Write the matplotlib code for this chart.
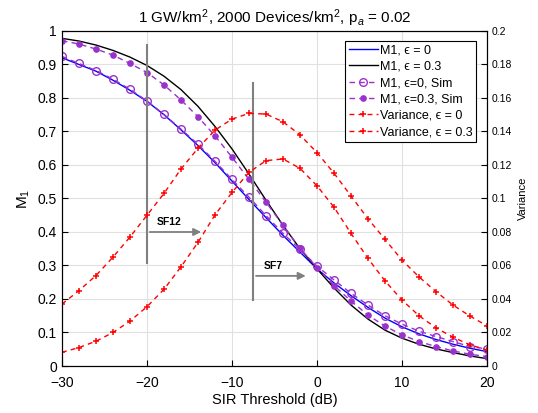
import numpy as np
import matplotlib.pyplot as plt

plt.rcParams['font.family'] = ['Liberation Sans', 'DejaVu Sans']
plt.rcParams['mathtext.fontset'] = 'custom'
plt.rcParams['mathtext.rm'] = 'Liberation Sans'
plt.rcParams['mathtext.it'] = 'Liberation Sans:italic'

sir = np.arange(-30, 21, 2)

m1_eps0 = [0.92, 0.90, 0.88, 0.853, 0.823, 0.79, 0.75, 0.705, 0.658, 0.607, 0.552, 0.497, 0.443,
           0.39, 0.34, 0.29, 0.248, 0.21, 0.175, 0.143, 0.117, 0.096, 0.079, 0.065, 0.053, 0.043]
m1_eps03 = [0.978, 0.970, 0.958, 0.942, 0.922, 0.897, 0.865, 0.825, 0.775, 0.715, 0.648, 0.573, 0.495,
            0.42, 0.35, 0.29, 0.233, 0.182, 0.14, 0.107, 0.083, 0.065, 0.051, 0.04, 0.03, 0.022]
sim_eps0 = [0.924, 0.903, 0.882, 0.856, 0.826, 0.791, 0.751, 0.707, 0.662, 0.611, 0.557, 0.504, 0.449,
            0.396, 0.348, 0.298, 0.257, 0.217, 0.182, 0.15, 0.125, 0.104, 0.088, 0.073, 0.058, 0.051]
sim_eps03 = [0.971, 0.961, 0.946, 0.928, 0.903, 0.876, 0.839, 0.794, 0.744, 0.687, 0.623, 0.557, 0.489,
             0.42, 0.351, 0.294, 0.24, 0.194, 0.152, 0.119, 0.093, 0.073, 0.058, 0.045, 0.035, 0.028]
var_eps0 = [0.037, 0.045, 0.054, 0.065, 0.077, 0.090, 0.103, 0.1176, 0.130, 0.1408, 0.1474, 0.1508, 0.1504,
            0.1458, 0.138, 0.1274, 0.1151, 0.1015, 0.0879, 0.0756, 0.0632, 0.0532, 0.0444, 0.0364, 0.0298, 0.024]
var_eps03 = [0.0082, 0.011, 0.0148, 0.020, 0.0268, 0.0354, 0.0458, 0.0592, 0.0738, 0.0902, 0.1036, 0.1156, 0.1226,
             0.1236, 0.118, 0.1076, 0.0948, 0.0792, 0.0642, 0.0508, 0.0394, 0.030, 0.0228, 0.0172, 0.0126, 0.0096]

purple = '#9932CC'

fig = plt.figure(figsize=(5.38, 4.13), dpi=100)
ax = fig.add_axes([0.1152, 0.1138, 0.79, 0.8112])
ax2 = ax.twinx()

ax.grid(True, color='#e0e0e0', linewidth=0.8)
ax.set_axisbelow(True)

h1, = ax.plot(sir, m1_eps0, color='blue', lw=1.0, label='M1, \u03f5 = 0')
h2, = ax.plot(sir, m1_eps03, color='black', lw=1.0, label='M1, \u03f5 = 0.3')
h3, = ax.plot(sir, sim_eps0, color=purple, ls='--', dashes=(4, 3), lw=1.0, marker='o', ms=5.5,
              mfc='none', mew=1.0, label='M1, \u03f5=0, Sim')
h4, = ax.plot(sir, sim_eps03, color=purple, ls='--', dashes=(4, 3), lw=1.0, marker='o', ms=3.8,
              label='M1, \u03f5=0.3, Sim')

h5, = ax2.plot(sir, var_eps0, color='red', ls='--', dashes=(3.5, 3), lw=1.0, marker='+', ms=5, mew=1.1,
               label='Variance, \u03f5 = 0')
h6, = ax2.plot(sir, var_eps03, color='red', ls='--', dashes=(3.5, 3), lw=1.0, marker='+', ms=5, mew=1.1,
               label='Variance, \u03f5 = 0.3')

# spreading factor annotations
gray = '#808080'
ax.plot([-20, -20], [0.307, 0.958], color=gray, lw=1.5)
ax.annotate('', xy=(-13.3, 0.4), xytext=(-20, 0.4),
            arrowprops=dict(arrowstyle='-|>', color=gray, lw=1.3, mutation_scale=11))
ax.text(-18.9, 0.43, 'SF12', fontsize=7.5, fontweight='bold', va='center', ha='left')
ax.plot([-7.5, -7.5], [0.197, 0.844], color=gray, lw=1.5)
ax.annotate('', xy=(-1.0, 0.269), xytext=(-7.5, 0.269),
            arrowprops=dict(arrowstyle='-|>', color=gray, lw=1.3, mutation_scale=11))
ax.text(-6.3, 0.298, 'SF7', fontsize=7.5, fontweight='bold', va='center', ha='left')

ax.set_xlim(-30, 20)
ax.set_ylim(0, 1)
ax.set_xticks(np.arange(-30, 21, 10))
ax.set_yticks(np.arange(0, 1.01, 0.1))
ax.set_yticklabels(['0'] + ['%.1f' % v for v in np.arange(0.1, 0.95, 0.1)] + ['1'])
ax.tick_params(direction='in', labelsize=10, length=4)
ax.tick_params(axis='x', pad=7)
ax2.set_ylim(0, 0.2)
ax2.set_yticks(np.arange(0, 0.201, 0.02))
ax2.set_yticklabels(['0'] + ['%g' % round(v, 2) for v in np.arange(0.02, 0.201, 0.02)])
ax2.tick_params(direction='in', labelsize=7.5, length=4)

ax.set_xlabel('SIR Threshold (dB)', fontsize=10.5, labelpad=2)
ax.set_ylabel(r'M$_1$', fontsize=11)
ax2.set_ylabel('Variance', fontsize=8)
ax.set_title(r'1 GW/km$^2$, 2000 Devices/km$^2$, p$_a$ = 0.02', fontsize=11)

leg = ax2.legend(handles=[h1, h2, h3, h4, h5, h6], loc='upper right', fontsize=9,
                 frameon=True, fancybox=False, edgecolor='black', framealpha=1,
                 handlelength=2.3, handletextpad=0.2, borderpad=0.3, labelspacing=0.35,
                 bbox_to_anchor=(0.99, 0.99))
leg.get_frame().set_linewidth(0.8)

fig.savefig('out.png', dpi=100)
